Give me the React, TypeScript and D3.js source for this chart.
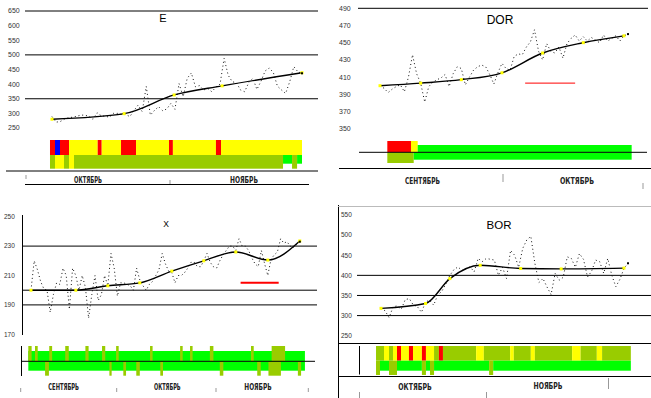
import React from 'react';
import * as d3 from 'd3';

type Seg = [number, number, string];

// ---------- Panel E ----------
const E_VALUES = [289,270,272,280,285,287,290,294,294,290,280,302,292,290,287,300,300,296,296,289,310,328,306,392,294,310,323,309,315,334,314,402,357,420,438,391,395,380,385,374,390,400,488,430,408,405,380,374,405,420,382,410,445,455,440,393,380,368,408,460,442,437];
const E_TREND_DAYS = [0, 17.6, 29.8, 41.5, 61];
const E_TREND_VALUES = [280, 299, 363, 394, 439];
const E_TICKS = [650, 600, 550, 500, 450, 400, 350, 300, 250];
const E_GRID = [650, 500, 350];
const E_MONTHS = ['ОКТЯБРЬ', 'НОЯБРЬ'];
const E_BAND_TOP: Seg[] = [[-0.49,0.73,'R'],[0.73,1.95,'B'],[1.95,4.15,'R'],[4.15,11.15,'Y'],[11.15,12.13,'R'],[12.13,16.84,'Y'],[16.84,20.5,'R'],[20.5,28.55,'Y'],[28.55,29.5,'R'],[29.5,40,'Y'],[40,41.24,'R'],[41.24,61,'Y']];
const E_BAND_BOTTOM: Seg[] = [[-0.49,0.73,'O'],[0.73,2.93,'Y'],[2.93,4.15,'O'],[4.15,5.37,'Y'],[5.37,56.37,'O'],[56.37,58.57,'G'],[58.57,59.8,'O'],[59.8,61,'G']];

// ---------- Panel DOR ----------
const DOR_VALUES = [400,397,392,396,399,401,393,410,436,414,403,381,399,404,407,409,413,399,414,422,420,401,410,418,422,424,422,413,402,415,426,420,418,434,437,436,445,451,465,440,430,449,440,438,445,432,449,455,459,452,457,452,456,453,450,459,452,455,458,452,458,460];
const DOR_TREND_DAYS = [0, 10, 20, 30, 40, 50, 60];
const DOR_TREND_VALUES = [400, 403, 407, 415, 438, 450, 458];
const DOR_TICKS = [490, 470, 450, 430, 410, 390, 370, 350];
const DOR_GRID = [490];
const DOR_MONTHS = ['СЕНТЯБРЬ', 'ОКТЯБРЬ'];
const DOR_REF: [number, number, number] = [35.7, 48, 403];
const DOR_BAND_TOP: Seg[] = [[1.8,7.62,'R'],[7.62,9.27,'Y'],[9.27,61.9,'G']];
const DOR_BAND_BOTTOM: Seg[] = [[1.8,8.29,'O'],[8.29,61.9,'G']];

// ---------- Panel X ----------
const X_VALUES = [200,220,214,206,201,200,185,197,205,204,215,210,187,215,210,200,210,202,181,197,210,193,197,210,203,225,215,196,205,205,204,203,200,215,207,203,200,204,206,210,214,225,218,213,212,205,210,210,212,215,219,219,216,216,220,225,219,216,215,220,224,227,230,230,227,235,230,230,227,222,218,216,227,218,210,221,224,226,235,232,233,230,229,231,233];
const X_TREND_DAYS = [0, 14, 24, 34, 44, 54, 64, 74, 84];
const X_TREND_VALUES = [200, 200, 203, 205, 213, 220, 226, 220.5, 233.5];
const X_TICKS = [250, 230, 210, 190, 170];
const X_GRID = [230, 200, 190];
const X_MONTHS = ['СЕНТЯБРЬ', 'ОКТЯБРЬ', 'НОЯБРЬ'];
const X_REF: [number, number, number] = [65.5, 77.4, 205];
const X_BAND_TOP: Seg[] = [[-0.84,85.6,'G'],[-0.84,0.2,'O'],[1.25,2.1,'O'],[5.7,6.6,'O'],[10.7,11.8,'O'],[17,18,'O'],[22.2,23.2,'O'],[26.6,27.4,'O'],[37.2,38,'O'],[46.6,47.4,'O'],[49.7,50.5,'O'],[55.9,57,'O'],[68.75,69.6,'O'],[75.2,79.4,'O']];
const X_BAND_BOTTOM: Seg[] = [[-0.84,85.6,'G'],[4.4,5.6,'O'],[24.5,25.2,'O'],[28.85,29.7,'O'],[32.9,34,'O'],[40.4,41.25,'O'],[59,60.1,'O'],[70.7,71.8,'O'],[74.2,78.1,'O'],[83.4,84.4,'O']];

// ---------- Panel BOR ----------
const BOR_VALUES = [318,312,295,322,324,316,340,342,326,322,308,334,338,326,351,360,378,400,414,421,412,417,421,409,442,434,442,440,438,400,420,392,462,450,420,467,488,497,430,382,392,371,352,405,388,395,446,442,420,454,440,396,410,438,434,405,442,400,372,390,417,430];
const BOR_TREND_DAYS = [0, 11, 17, 24.5, 34.5, 44.5, 60];
const BOR_TREND_VALUES = [318, 330, 392, 425, 417, 416, 418];
const BOR_TICKS = [550, 500, 450, 400, 350, 300, 250];
const BOR_GRID = [400, 350, 300];
const BOR_MONTHS = ['ОКТЯБРЬ', 'НОЯБРЬ'];
const BOR_BAND_TOP: Seg[] = [[-1.23,0.74,'O'],[0.74,1.98,'Y'],[1.98,2.96,'O'],[2.96,3.95,'Y'],[3.95,4.94,'R'],[4.94,6.9,'Y'],[6.9,7.9,'R'],[7.9,10.1,'Y'],[10.1,11.1,'R'],[11.1,13.1,'Y'],[13.1,14.3,'O'],[14.3,15.3,'R'],[15.3,23.5,'O'],[23.5,25.4,'Y'],[25.4,31.9,'O'],[31.9,32.8,'Y'],[32.8,37,'O'],[37,38,'Y'],[38,47.2,'O'],[47.2,49.3,'Y'],[49.3,53.3,'O'],[53.3,54.6,'Y'],[54.6,61.7,'O']];
const BOR_BAND_BOTTOM: Seg[] = [[-1.23,-0.25,'O'],[-0.25,1.98,'G'],[1.98,3.95,'O'],[3.95,10.1,'G'],[10.1,11.1,'O'],[11.1,12.1,'G'],[12.1,13.1,'O'],[13.1,26.7,'G'],[26.7,27.7,'O'],[27.7,61.7,'G']];

const COLORS: Record<string, string> = { R: '#ff0000', B: '#0000ff', Y: '#ffff00', O: '#99cc00', G: '#00ff00' };

interface Layout {
  title: string; titleX: number; titleY: number; titleSize: number;
  xRange: [number, number]; yDomain: [number, number]; yRange: [number, number];
  labelX: number; labelSize: number; gridX: [number, number];
  band: { base: number; upFull: number; upGreen: number; downFull: number; downGreen: number };
  midLine?: [number, number];
  monthPos: { cx: number; w: number; y: number }[];
  ticks: [number, number, number][];
  lines: [number, number, number, number, string][];
  refWidth?: number;
}

function Panel({ values, trendDays, trendValues, ticks, grid, months, bandTop, bandBottom, refLine, L }: any) {
  const lay: Layout = L;
  const x = d3.scaleLinear().domain([0, values.length - 1]).range(lay.xRange);
  const y = d3.scaleLinear().domain(lay.yDomain).range(lay.yRange);
  const raw = d3.line<number>().x((_, i) => x(i)).y((v) => y(v))(values) || '';
  const trendPts: [number, number][] = trendDays.map((d: number, i: number) => [d, trendValues[i]]);
  const trend = d3.line<[number, number]>().x((p) => x(p[0])).y((p) => y(p[1])).curve(d3.curveMonotoneX)(trendPts) || '';
  const b = lay.band;
  return (
    <g>
      {lay.lines.map((l, i) => (
        <line key={'l' + i} x1={l[0]} y1={l[1]} x2={l[2]} y2={l[3]} stroke={l[4]} strokeWidth={1} />
      ))}
      {grid.map((g: number) => (
        <line key={'g' + g} x1={lay.gridX[0]} x2={lay.gridX[1]} y1={y(g)} y2={y(g)} stroke="#000" strokeWidth={1} />
      ))}
      {ticks.map((t: number) => (
        <text key={'t' + t} x={lay.labelX} y={y(t)} dy="0.35em" fontSize={lay.labelSize} fill="#333"
          fontFamily="Liberation Sans, Arial, sans-serif">{t}</text>
      ))}
      <text x={lay.titleX} y={lay.titleY} dy="0.35em" textAnchor="middle" fontSize={lay.titleSize}
        fontFamily="Liberation Sans, Arial, sans-serif" fill="#000">{lay.title}</text>
      <path d={raw} fill="none" stroke="#111" strokeWidth={1} strokeDasharray="1 2.8" />
      <path d={trend} fill="none" stroke="#000" strokeWidth={1.4} />
      {trendPts.map((p, i) => (
        <rect key={'n' + i} x={x(p[0]) - 1.5} y={y(p[1]) - 1.5} width={3} height={3} fill="#ffff00" />
      ))}
      <rect x={x(values.length - 1) - 1} y={y(values[values.length - 1]) - 1} width={2} height={2} fill="#000" />
      {refLine && (
        <line x1={x(refLine[0])} x2={x(refLine[1])} y1={y(refLine[2])} y2={y(refLine[2])} stroke="#ff0000" strokeWidth={lay.refWidth || 1} />
      )}
      {bandTop.map((s: Seg, i: number) => {
        const h = s[2] === 'G' ? b.upGreen : b.upFull;
        return <rect key={'bt' + i} x={x(s[0])} width={x(s[1]) - x(s[0])} y={b.base - h} height={h} fill={COLORS[s[2]]} />;
      })}
      {bandBottom.map((s: Seg, i: number) => {
        const h = s[2] === 'G' ? b.downGreen : b.downFull;
        return <rect key={'bb' + i} x={x(s[0])} width={x(s[1]) - x(s[0])} y={b.base} height={h} fill={COLORS[s[2]]} />;
      })}
      {lay.midLine && (
        <line x1={lay.midLine[0]} x2={lay.midLine[1]} y1={b.base} y2={b.base} stroke="#000" strokeWidth={1} />
      )}
      {lay.ticks.map((t, i) => (
        <line key={'k' + i} x1={t[0]} x2={t[0]} y1={t[1]} y2={t[2]} stroke="#999" strokeWidth={1} />
      ))}
      {months.map((m: string, i: number) => (
        <text key={'m' + i} x={lay.monthPos[i].cx - lay.monthPos[i].w / 2} y={lay.monthPos[i].y} fontSize={8.5}
          fontWeight="bold" textLength={lay.monthPos[i].w} lengthAdjust="spacingAndGlyphs"
          fontFamily="DejaVu Sans Condensed, DejaVu Sans, sans-serif" fill="#222">{m}</text>
      ))}
    </g>
  );
}

const E_LAYOUT: Layout = {
  title: 'E', titleX: 163, titleY: 18, titleSize: 11,
  xRange: [52, 302], yDomain: [250, 650], yRange: [128, 11],
  labelX: 8, labelSize: 7, gridX: [25, 318],
  band: { base: 155, upFull: 15, upGreen: 10, downFull: 13.7, downGreen: 8.7 },
  monthPos: [{ cx: 88, w: 28, y: 182.5 }, { cx: 244, w: 28, y: 182.5 }],
  ticks: [[26, 175, 179], [170, 180, 184]],
  lines: [[6, 171, 318, 171, '#000'], [25, 184.5, 309, 184.5, '#000']],
};
const DOR_LAYOUT: Layout = {
  title: 'DOR', titleX: 500, titleY: 20, titleSize: 12,
  xRange: [380, 628], yDomain: [350, 490], yRange: [128.7, 8.3],
  labelX: 339, labelSize: 7, gridX: [358, 648],
  band: { base: 152.3, upFull: 11.3, upGreen: 7.3, downFull: 10.7, downGreen: 7.4 },
  midLine: [359, 647],
  monthPos: [{ cx: 422.5, w: 35, y: 183.5 }, { cx: 577, w: 34, y: 183.5 }],
  ticks: [[503, 174, 182], [643, 183, 189]],
  lines: [[339, 168.5, 651, 168.5, '#000']],
};
const X_LAYOUT: Layout = {
  title: 'X', titleX: 166, titleY: 224.5, titleSize: 8.5,
  xRange: [31, 299.8], yDomain: [170, 250], yRange: [334.3, 216.7],
  labelX: 4, labelSize: 6.5, gridX: [22, 317],
  band: { base: 361.3, upFull: 15.3, upGreen: 10.3, downFull: 14.4, downGreen: 9.4 },
  midLine: [21.7, 315],
  monthPos: [{ cx: 63.7, w: 30.7, y: 390 }, { cx: 167.3, w: 26.7, y: 390 }, { cx: 258, w: 27.4, y: 390 }],
  ticks: [[20.7, 388, 392], [116.7, 388, 392], [216, 388, 392], [308.3, 388, 392]],
  lines: [[22.5, 215, 22.5, 335, '#000'], [21.5, 346, 21.5, 376, '#000']],
  refWidth: 2,
};
const BOR_LAYOUT: Layout = {
  title: 'BOR', titleX: 499, titleY: 225, titleSize: 11.5,
  xRange: [381, 628], yDomain: [250, 550], yRange: [335.7, 215],
  labelX: 341, labelSize: 6.5, gridX: [357, 651],
  band: { base: 360.7, upFull: 14.7, upGreen: 14.7, downFull: 14.3, downGreen: 10 },
  monthPos: [{ cx: 415, w: 33.3, y: 390 }, { cx: 548, w: 29, y: 388.5 }],
  ticks: [[359.5, 392, 398], [486.5, 392, 398], [608.5, 378, 389]],
  lines: [[338.5, 205, 338.5, 398, '#000'], [338, 206.5, 651, 206.5, '#bbb'], [338, 343.5, 651, 343.5, '#000'], [338, 376.5, 651, 376.5, '#000'], [359.5, 346, 359.5, 374.5, '#000']],
};

export default function App() {
  return (
    <div style={{ position: 'absolute', left: 0, top: 0, width: 651, height: 398, background: '#fff' }}>
      <svg width={651} height={398} style={{ display: 'block' }}>
        <rect width={651} height={398} fill="#fff" />
        <Panel values={E_VALUES} trendDays={E_TREND_DAYS} trendValues={E_TREND_VALUES} ticks={E_TICKS} grid={E_GRID}
          months={E_MONTHS} bandTop={E_BAND_TOP} bandBottom={E_BAND_BOTTOM} L={E_LAYOUT} />
        <Panel values={DOR_VALUES} trendDays={DOR_TREND_DAYS} trendValues={DOR_TREND_VALUES} ticks={DOR_TICKS} grid={DOR_GRID}
          months={DOR_MONTHS} bandTop={DOR_BAND_TOP} bandBottom={DOR_BAND_BOTTOM} refLine={DOR_REF} L={DOR_LAYOUT} />
        <Panel values={X_VALUES} trendDays={X_TREND_DAYS} trendValues={X_TREND_VALUES} ticks={X_TICKS} grid={X_GRID}
          months={X_MONTHS} bandTop={X_BAND_TOP} bandBottom={X_BAND_BOTTOM} refLine={X_REF} L={X_LAYOUT} />
        <Panel values={BOR_VALUES} trendDays={BOR_TREND_DAYS} trendValues={BOR_TREND_VALUES} ticks={BOR_TICKS} grid={BOR_GRID}
          months={BOR_MONTHS} bandTop={BOR_BAND_TOP} bandBottom={BOR_BAND_BOTTOM} L={BOR_LAYOUT} />
      </svg>
    </div>
  );
}
